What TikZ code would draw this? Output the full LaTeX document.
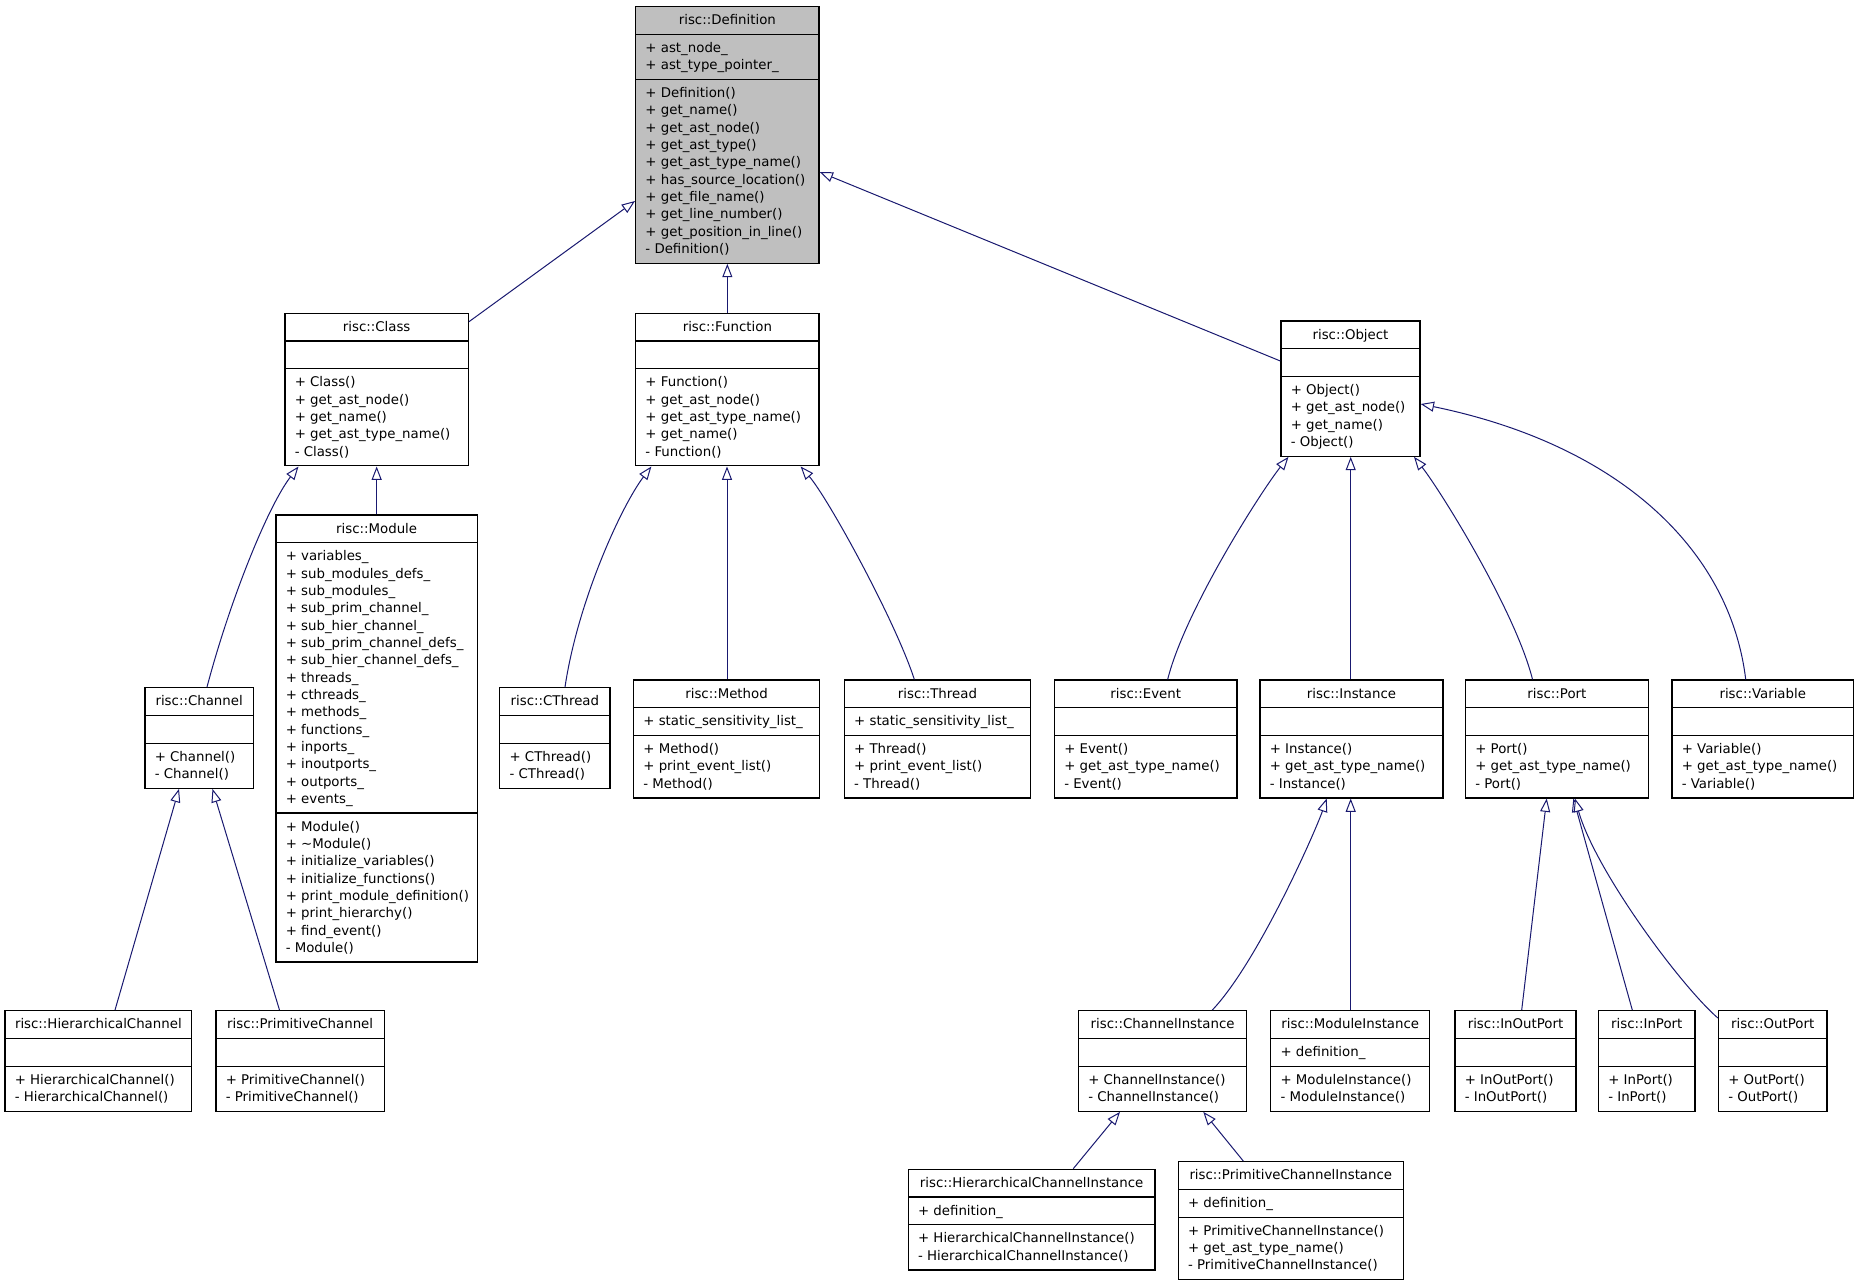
\documentclass[tikz,border=0pt]{standalone}
\usepackage{fontspec}
\setmainfont{DejaVu Sans}
\usetikzlibrary{arrows.meta,fit}
\definecolor{edgecol}{RGB}{25,25,112}
\definecolor{defgray}{RGB}{191,191,191}
\tikzset{
  classbox/.style={draw=black, line width=1pt, inner sep=0pt, fill=white},
  sepline/.style={draw=black, line width=1pt},
  txt/.style={font=\fontsize{10}{13}\selectfont, inner sep=0pt},
  inh/.style={draw=edgecol, line width=0.75pt,
    -{Triangle[open, length=10pt, width=7.5pt, fill=white]}},
}
% #1 id, #2 left, #3 top, #4 right, #5 attr lines, #6 method lines, #7 title, #8 attrs, #9 methods
\newcommand{\umlclass}[9]{%
  \pgfmathsetmacro\ya{#3+27.73}%
  \pgfmathsetmacro\yb{\ya+17.33*max(#5,1)+10.4}%
  \pgfmathsetmacro\yc{\yb+17.33*max(#6,1)+10.4}%
  \node[classbox, fit={(#2,#3)(#4,\yc)}] (#1) {};
  \draw[sepline] (#2,\ya) -- (#4,\ya);
  \draw[sepline] (#2,\yb) -- (#4,\yb);
  \node[txt, anchor=base] (#1-t) at ({(#2+#4)/2},#3+18) {#7};
  \node[txt, anchor=base west] (#1-a) at (#2+9.5,\ya+18) {\begin{tabular}[t]{@{}l@{}}#8\end{tabular}};
  \node[txt, anchor=base west] (#1-m) at (#2+9.5,\yb+18) {\begin{tabular}[t]{@{}l@{}}#9\end{tabular}};
}
\begin{document}
\begin{tikzpicture}[x=0.75pt, y=-0.75pt]
\fill[white] (0,0) rectangle (1857,1285);
\useasboundingbox (0,0) rectangle (1857,1285);

\begin{scope}[classbox/.append style={fill=defgray}]
\umlclass{Definition}{635.7}{6.7}{819}{2}{10}{risc::Definition}
  {+ ast\_node\_\\+ ast\_type\_pointer\_}
  {+ Definition()\\+ get\_name()\\+ get\_ast\_node()\\+ get\_ast\_type()\\+ get\_ast\_type\_name()\\+ has\_source\_location()\\+ get\_file\_name()\\+ get\_line\_number()\\+ get\_position\_in\_line()\\- Definition()}
\end{scope}

\umlclass{Class}{285}{313.3}{468.3}{0}{5}{risc::Class}{}
  {+ Class()\\+ get\_ast\_node()\\+ get\_name()\\+ get\_ast\_type\_name()\\- Class()}
\umlclass{Function}{635.7}{313.3}{819}{0}{5}{risc::Function}{}
  {+ Function()\\+ get\_ast\_node()\\+ get\_ast\_type\_name()\\+ get\_name()\\- Function()}
\umlclass{Object}{1281}{321}{1420}{0}{4}{risc::Object}{}
  {+ Object()\\+ get\_ast\_node()\\+ get\_name()\\- Object()}

\umlclass{Module}{276}{515}{477.3}{15}{8}{risc::Module}
  {+ variables\_\\+ sub\_modules\_defs\_\\+ sub\_modules\_\\+ sub\_prim\_channel\_\\+ sub\_hier\_channel\_\\+ sub\_prim\_channel\_defs\_\\+ sub\_hier\_channel\_defs\_\\+ threads\_\\+ cthreads\_\\+ methods\_\\+ functions\_\\+ inports\_\\+ inoutports\_\\+ outports\_\\+ events\_}
  {+ Module()\\+ \textasciitilde Module()\\+ initialize\_variables()\\+ initialize\_functions()\\+ print\_module\_definition()\\+ print\_hierarchy()\\+ find\_event()\\- Module()}
\umlclass{Channel}{145}{687.7}{253.3}{0}{2}{risc::Channel}{}
  {+ Channel()\\- Channel()}
\umlclass{CThread}{499.8}{687.7}{610}{0}{2}{risc::CThread}{}
  {+ CThread()\\- CThread()}
\umlclass{Method}{633.6}{680}{819.5}{1}{3}{risc::Method}
  {+ static\_sensitivity\_list\_}
  {+ Method()\\+ print\_event\_list()\\- Method()}
\umlclass{Thread}{844.4}{680}{1030.4}{1}{3}{risc::Thread}
  {+ static\_sensitivity\_list\_}
  {+ Thread()\\+ print\_event\_list()\\- Thread()}
\umlclass{Event}{1054.5}{680}{1237}{0}{3}{risc::Event}{}
  {+ Event()\\+ get\_ast\_type\_name()\\- Event()}
\umlclass{Instance}{1260}{680}{1443}{0}{3}{risc::Instance}{}
  {+ Instance()\\+ get\_ast\_type\_name()\\- Instance()}
\umlclass{Port}{1465.5}{680}{1648.3}{0}{3}{risc::Port}{}
  {+ Port()\\+ get\_ast\_type\_name()\\- Port()}
\umlclass{Variable}{1672}{680}{1853.5}{0}{3}{risc::Variable}{}
  {+ Variable()\\+ get\_ast\_type\_name()\\- Variable()}

\umlclass{HierarchicalChannel}{5}{1010.7}{191.7}{0}{2}{risc::HierarchicalChannel}{}
  {+ HierarchicalChannel()\\- HierarchicalChannel()}
\umlclass{PrimitiveChannel}{216}{1010.7}{384.3}{0}{2}{risc::PrimitiveChannel}{}
  {+ PrimitiveChannel()\\- PrimitiveChannel()}
\umlclass{ChannelInstance}{1078.5}{1010.7}{1246.7}{0}{2}{risc::ChannelInstance}{}
  {+ ChannelInstance()\\- ChannelInstance()}
\umlclass{ModuleInstance}{1270.8}{1010.7}{1429.8}{1}{2}{risc::ModuleInstance}
  {+ definition\_}
  {+ ModuleInstance()\\- ModuleInstance()}
\umlclass{InOutPort}{1455}{1010.7}{1576}{0}{2}{risc::InOutPort}{}
  {+ InOutPort()\\- InOutPort()}
\umlclass{InPort}{1598.5}{1010.7}{1695}{0}{2}{risc::InPort}{}
  {+ InPort()\\- InPort()}
\umlclass{OutPort}{1718.5}{1010.7}{1827}{0}{2}{risc::OutPort}{}
  {+ OutPort()\\- OutPort()}
\umlclass{HierarchicalChannelInstance}{908.3}{1169.3}{1155}{1}{2}{risc::HierarchicalChannelInstance}
  {+ definition\_}
  {+ HierarchicalChannelInstance()\\- HierarchicalChannelInstance()}
\umlclass{PrimitiveChannelInstance}{1178.3}{1161.7}{1403.3}{1}{3}{risc::PrimitiveChannelInstance}
  {+ definition\_}
  {+ PrimitiveChannelInstance()\\+ get\_ast\_type\_name()\\- PrimitiveChannelInstance()}

% inheritance edges
\draw[inh] (Class.east |- 0,321.7) -- (Definition.west |- 0,201);
\draw[inh] (Function.north) -- (Definition.south);
\draw[inh] (Object.west |- 0,361) -- (Definition.east |- 0,172);
\draw[inh] (207,0 |- Channel.north) .. controls (230,600) and (268,506) .. (298.5,0 |- Class.south);
\draw[inh] (Module.north) -- (Class.south);
\draw[inh] (115,0 |- HierarchicalChannel.north) -- (179,0 |- Channel.south);
\draw[inh] (279.5,0 |- PrimitiveChannel.north) -- (212.5,0 |- Channel.south);
\draw[inh] (565,0 |- CThread.north) .. controls (578,600) and (622,505) .. (651.4,0 |- Function.south);
\draw[inh] (727,0 |- Method.north) -- (727,0 |- Function.south);
\draw[inh] (914.3,0 |- Thread.north) .. controls (895,620) and (828,498) .. (800.6,0 |- Function.south);
\draw[inh] (1167.7,0 |- Event.north) .. controls (1185,610) and (1262,490) .. (1288.5,0 |- Object.south);
\draw[inh] (1350.7,0 |- Instance.north) -- (1350.7,0 |- Object.south);
\draw[inh] (1532.5,0 |- Port.north) .. controls (1515,610) and (1440,490) .. (1414,0 |- Object.south);
\draw[inh] (1745.7,0 |- Variable.north) .. controls (1730,550) and (1620,445) .. (Object.east |- 0,404);
\draw[inh] (1212.3,0 |- ChannelInstance.north) .. controls (1258,962) and (1316,830) .. (1326.7,0 |- Instance.south);
\draw[inh] (1350.7,0 |- ModuleInstance.north) -- (1350.7,0 |- Instance.south);
\draw[inh] (1521.7,0 |- InOutPort.north) -- (1546.7,0 |- Port.south);
\draw[inh] (1632.3,0 |- InPort.north) -- (1573.3,0 |- Port.south);
\draw[inh] (OutPort.west |- 0,1018) .. controls (1680,985) and (1595,870) .. (1575,0 |- Port.south);
\draw[inh] (1073.3,0 |- HierarchicalChannelInstance.north) -- (1120,0 |- ChannelInstance.south);
\draw[inh] (1243.3,0 |- PrimitiveChannelInstance.north) -- (1203.3,0 |- ChannelInstance.south);
\end{tikzpicture}
\end{document}
